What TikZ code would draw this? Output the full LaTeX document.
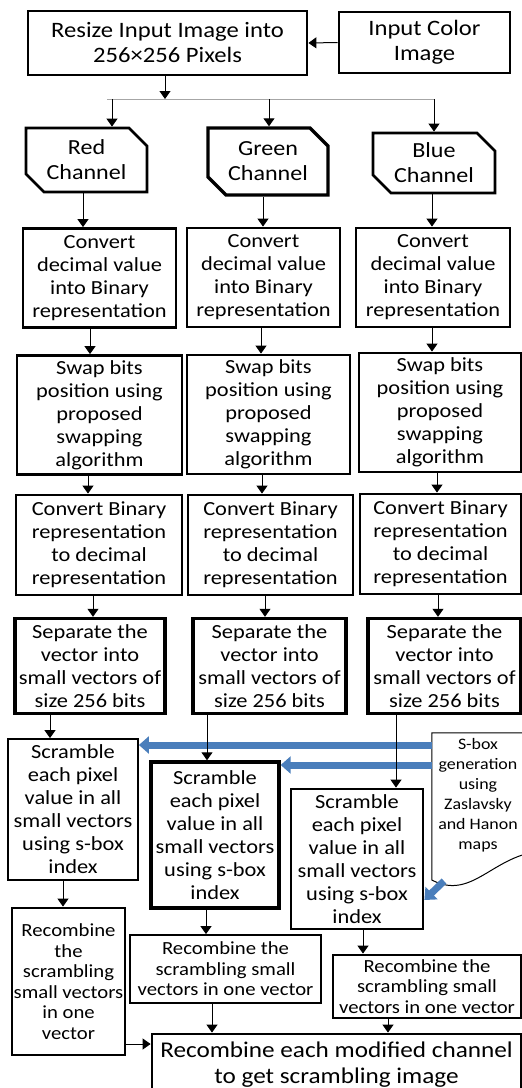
\documentclass[tikz,border=0pt]{standalone}
\usepackage{fontspec}
\setmainfont{Carlito}[FakeStretch=1.12]
\usetikzlibrary{arrows.meta,shapes.misc}
\definecolor{sboxblue}{RGB}{74,126,187}

\begin{document}
\begin{tikzpicture}[x=1pt,y=-1pt,>={Triangle[length=8pt,width=11pt]},
  bigtext/.style={font=\fontsize{22}{25}\selectfont},
  smalltext/.style={font=\fontsize{18.5}{20.5}\selectfont},
  stage/.style={draw,line width=2.8pt,align=center,inner sep=0pt,font=\fontsize{20}{23}\selectfont},
  heavy/.style={line width=3.4pt},
  light/.style={line width=1.8pt},
  chan/.style={stage,chamfered rectangle,chamfered rectangle corners={north east,south west},chamfered rectangle xsep=9pt,chamfered rectangle ysep=9pt,font=\fontsize{21.5}{25}\selectfont},
  flow/.style={->,line width=1pt},
  feed/.style={-{Triangle[length=10pt,width=17pt]},line width=7pt,draw=sboxblue}]
\useasboundingbox (0,0) rectangle (522,1088);
\clip (0,0) rectangle (522,1088);
\node[stage,bigtext,minimum width=279pt,minimum height=64pt] (resize) at (167.5,43) {Resize Input Image into\\256×256 Pixels};
\node[stage,bigtext,minimum width=171pt,minimum height=61pt] (input) at (424.5,42.5) {Input Color\\Image};
\node[chan,minimum width=121pt,minimum height=64pt] (red) at (86.5,160) {Red\\Channel};
\node[chan,heavy,minimum width=120pt,minimum height=67pt] (green) at (268,161.5) {Green\\Channel};
\node[chan,minimum width=122pt,minimum height=60pt] (blue) at (434,163) {Blue\\Channel};
\foreach \n/\x/\y/\w in {cvR/99.5/278/153,cvG/263.5/277.5/153,cvB/433/277.5/154}
  \node[stage,minimum width=\w pt,minimum height=99pt] (\n) at (\x,\y) {Convert\\decimal value\\into Binary\\representation};
\foreach \n/\x/\y/\w in {swR/99.5/415/165,swG/268.5/414.5/163,swB/440/412.5/162}
  \node[stage,minimum width=\w pt,minimum height=119pt] (\n) at (\x,\y) {Swap bits\\position using\\proposed\\swapping\\algorithm};
\foreach \n/\x/\y/\w in {cbR/99/545/166,cbG/270.5/545/165,cbB/440.5/544/161}
  \node[stage,minimum width=\w pt,minimum height=100pt] (\n) at (\x,\y) {Convert Binary\\representation\\to decimal\\representation};
\foreach \n/\x/\w in {spR/90/150,spG/269.5/153,spB/444.5/153}
  \node[stage,heavy,minimum width=\w pt,minimum height=95pt] (\n) at (\x,666) {Separate the\\vector into\\small vectors of\\size 256 bits};
\node[stage,light,minimum width=130pt,minimum height=141pt] (scR) at (73,809.5) {Scramble\\each pixel\\value in all\\small vectors\\using s-box\\index};
\node[stage,heavy,minimum width=128pt,minimum height=146pt] (scG) at (215,835) {Scramble\\each pixel\\value in all\\small vectors\\using s-box\\index};
\node[stage,minimum width=132pt,minimum height=140pt] (scB) at (357,859) {Scramble\\each pixel\\value in all\\small vectors\\using s-box\\index};
\node[stage,smalltext,minimum width=113pt,minimum height=147pt] (rcR) at (68.5,981.5) {Recombine\\the\\scrambling\\small vectors\\in one\\vector};
\node[stage,smalltext,light,minimum width=191pt,minimum height=68pt] (rcG) at (225.5,969) {Recombine the\\scrambling small\\vectors in one vector};
\node[stage,smalltext,minimum width=188pt,minimum height=63pt] (rcB) at (427,986.5) {Recombine the\\scrambling small\\vectors in one vector};
\node[stage,font=\fontsize{22.5}{25.5}\selectfont,minimum width=369pt,minimum height=61pt] (final) at (336.5,1064.5) {Recombine each modified channel\\to get scrambling image};
\node[align=center,inner sep=0pt,font=\fontsize{16}{20}\selectfont,minimum width=92pt,minimum height=124pt] (sbox) at (478,795) {S-box\\generation\\using\\Zaslavsky\\and Hanon\\maps};
\draw[line width=1pt] ([xshift=10pt]sbox.north east) -- (sbox.north west) -- (sbox.west |- 0,880) .. controls (470,900) and (490,860) .. (534,852);
\draw[feed] (sbox.west |- 0,745) -- (scR.east |- 0,745);
\draw[feed] (sbox.west |- 0,765) -- (scG.east |- 0,765);
\draw[feed] (444,881) -- (scB.east |- 0,900);
\draw[flow] (input.west) -- (resize.east);
\coordinate (split) at (165,99);
\coordinate (tapR) at (112,99); \coordinate (tapG) at (269,99); \coordinate (tapB) at (434,99);
\draw[gray!70,line width=1pt] ([xshift=-5pt]tapR) -- ([xshift=1pt]tapB);
\draw[flow] (resize.south -| split) -- (split);
\foreach \t/\c in {tapR/red,tapG/green,tapB/blue} \draw[flow] (\t) -- (\t |- \c.north);
\foreach \a/\b/\x in {red/cvR/83,green/cvG/263,blue/cvB/432,cvR/swR/90,cvG/swG/261,cvB/swB/432,swR/cbR/88,swG/cbG/262,swB/cbB/437,cbR/spR/93,cbG/spG/265,cbB/spB/438,spR/scR/50,spG/scG/207,spB/scB/396,scR/rcR/63,scG/rcG/206,scB/rcB/363,rcG/final/212,rcB/final/388}
  \draw[flow] (\a.south -| \x,0) -- (\b.north -| \x,0);
\draw[flow] (rcR.east |- 0,1044) -- (final.west |- 0,1044);
\end{tikzpicture}
\end{document}
